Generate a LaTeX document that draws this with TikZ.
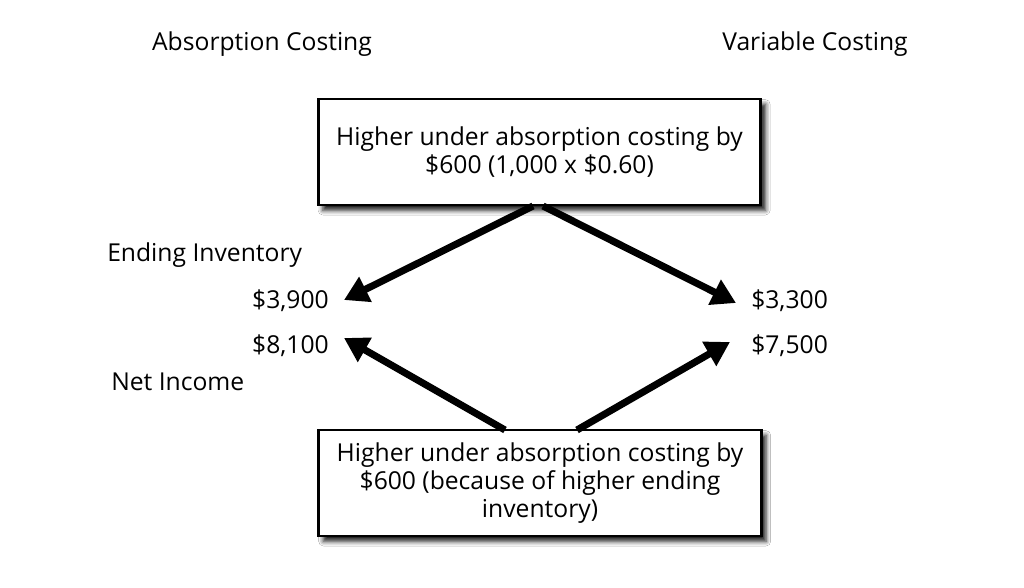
\documentclass[tikz,border=0pt]{standalone}
\usepackage{fontspec}
\setmainfont{Open Sans}
\usetikzlibrary{arrows.meta,shadows.blur}
\begin{document}
\begin{tikzpicture}[x=0.75pt,y=-0.75pt,
  every node/.style={font=\fontsize{18.5}{21}\selectfont, inner sep=0pt},
  box/.style={draw=black, line width=2.2pt, fill=white, minimum width=332pt, minimum height=79.5pt,
     align=center, blur shadow={shadow xshift=3.5pt, shadow yshift=-4pt, shadow blur radius=3.5pt, shadow opacity=90}},
  bigarrow/.style={line width=5.3pt, -{Triangle[length=18pt,width=20pt]}}
]
\useasboundingbox (0,0) rectangle (1024,588);
\fill[white] (0,0) rectangle (1024,588);

\node (hA) at (262,44) {Absorption Costing};
\node (hV) at (815,44) {Variable Costing};

\node[box] (top) at (539.5,152) {Higher under absorption costing by\\\$600 (1,000 x \$0.60)};
\node[box] (bot) at (540,483) {Higher under absorption costing by\\\$600 (because of higher ending\\inventory)};

\node[anchor=west] (ei) at (107,255) {Ending Inventory};
\node[anchor=west] (ni) at (111,382) {Net Income};
\node[anchor=east] (a1) at (329,301) {\$3,900};
\node[anchor=east] (a2) at (329,346) {\$8,100};
\node[anchor=west] (v1) at (751,301) {\$3,300};
\node[anchor=west] (v2) at (751,346) {\$7,500};

\coordinate (s1) at (533,206);
\coordinate (s2) at (543,206);
\coordinate (s3) at (505,430);
\coordinate (s4) at (577,430);
\coordinate (t1) at (344,300);
\coordinate (t2) at (736,303);
\coordinate (t3) at (344,338);
\coordinate (t4) at (730,342);

\draw[bigarrow] (s1) -- (t1);
\draw[bigarrow] (s2) -- (t2);
\draw[bigarrow] (s3) -- (t3);
\draw[bigarrow] (s4) -- (t4);
\end{tikzpicture}
\end{document}
